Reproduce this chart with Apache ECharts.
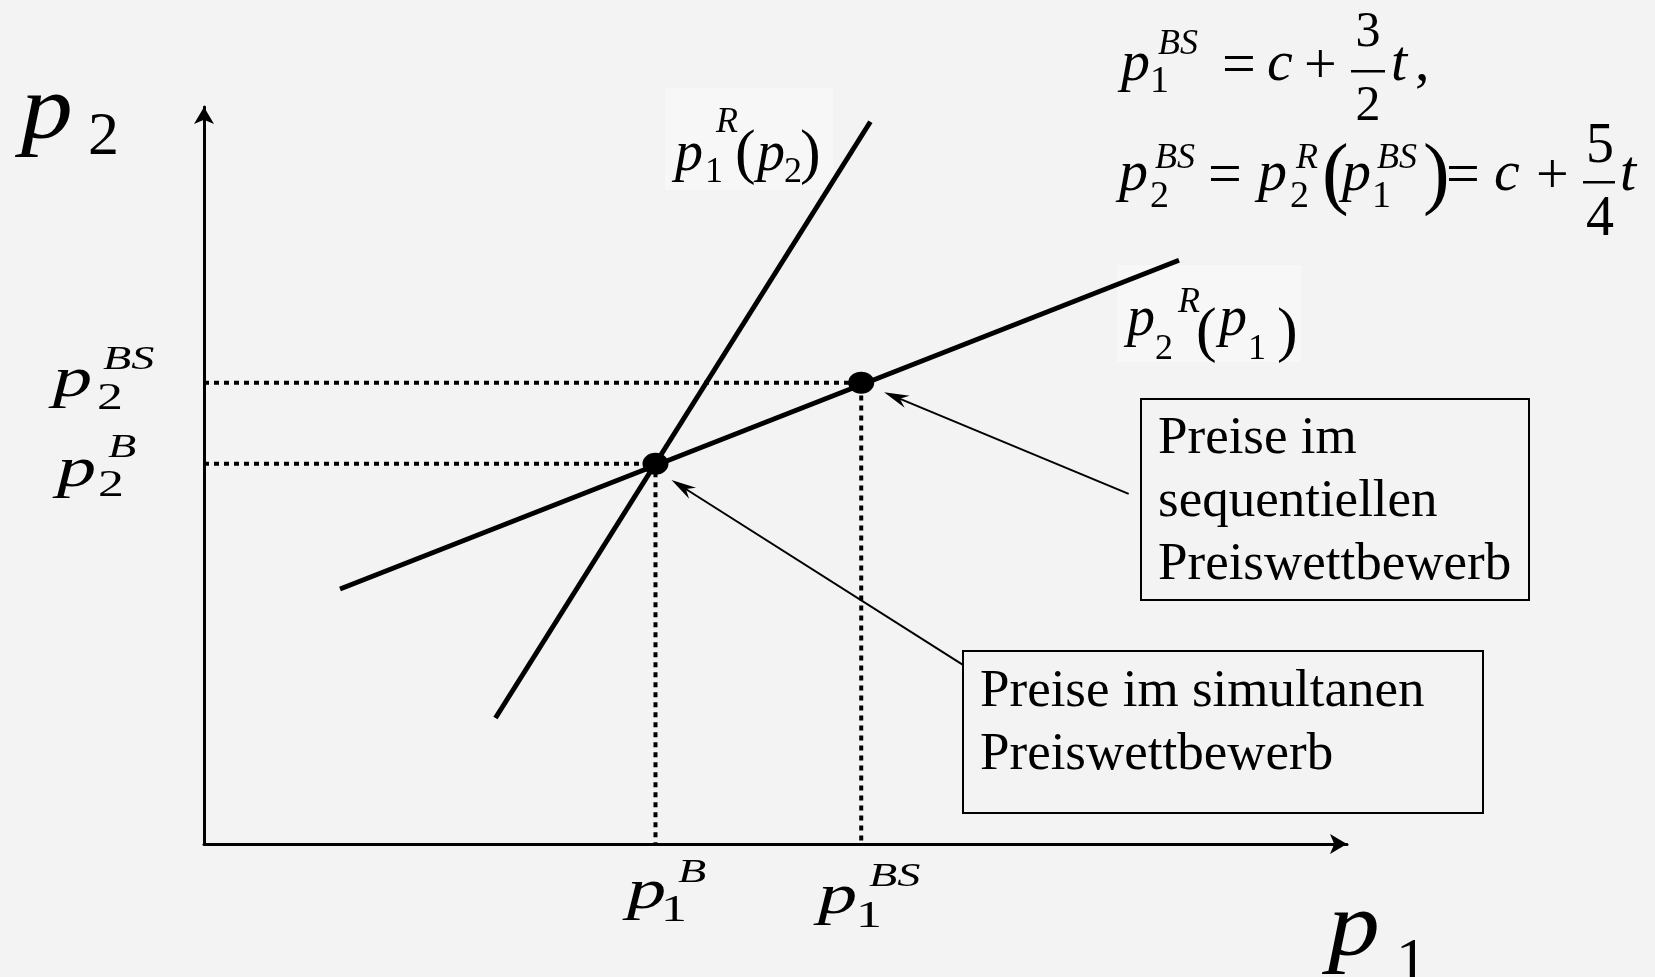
<!DOCTYPE html>
<html>
<head>
<meta charset="utf-8">
<title>Preiswettbewerb</title>
<script src="https://cdn.jsdelivr.net/npm/echarts@6/dist/echarts.min.js"></script>
<style>
html,body{margin:0;padding:0;background:#f3f3f3;}
#main{width:1655px;height:977px;}
</style>
</head>
<body>
<div id="main"></div>
<script>
// Achsen laufen von 0 bis 100 (beliebige Einheiten)
var reaktion1 = [[25.5, 17.1], [58.3, 98.0]];   // p1^R(p2), steil
var reaktion2 = [[11.9, 34.6], [85.3, 79.2]];   // p2^R(p1), flach
var bertrand = [39.5, 51.6];      // Preise im simultanen Wettbewerb
var stackelberg = [57.5, 62.6];   // Preise im sequentiellen Wettbewerb
var pfeilVon = [[80.9, 47.5], [66.4, 24.3]];
var pfeilNach = [[59.5, 61.3], [40.9, 49.4]];

var serif = '"Liberation Serif", "Times New Roman", serif';

// ein Textstueck, base = Grundlinie in Pixel
// o: {b: fett, sx: Streckung in x, align}
function t(s, x, base, size, ital, o)
{
  o = o || {};
  return {
    type: 'text',
    x: x,
    y: base - 0.29 * size,
    scaleX: o.sx || 1,
    z: 100,
    style: {
      text: s,
      fill: '#000',
      font: (ital ? 'italic ' : '') + (o.b ? 'bold ' : '') + size + 'px ' + serif,
      align: o.align || 'left',
      verticalAlign: 'middle',
      textAlign: o.align || 'left',
      textVerticalAlign: 'middle'
    }
  };
}

function box(x, y, w, h, fill, stroke, z)
{
  return {
    type: 'rect',
    z: z == null ? 90 : z,
    shape: { x: x, y: y, width: w, height: h },
    style: { fill: fill, stroke: stroke || null, lineWidth: stroke ? 2 : 0 }
  };
}

var breit = { sx: 1.4 };
var mitte = { align: 'center' };

var graphics = [
  // Achsenbeschriftung
  t('p', 21, 140, 90, true, { sx: 1.15 }), t('2', 88, 156, 62, false),
  t('p', 1328, 957, 90, true, { sx: 1.15 }), t('1', 1396, 982, 62, false),

  // p2^BS, p2^B
  t('p', 53, 398, 56, true, breit), t('2', 97, 410, 37, false, breit), t('BS', 103, 370, 33, true, breit),
  t('p', 57, 488, 56, true, breit), t('2', 98, 497, 37, false, breit), t('B', 108, 458, 33, true, breit),
  // p1^B, p1^BS
  t('p', 627, 910, 56, true, breit), t('1', 661, 922, 37, false, breit), t('B', 678, 883, 33, true, breit),
  t('p', 818, 915, 56, true, breit), t('1', 856, 928, 37, false, breit), t('BS', 869, 887, 33, true, breit),

  // p1^R(p2)
  box(665, 88, 168, 102, '#f7f7f7', null, 1),
  t('p', 675, 172, 56, true), t('1', 705, 183, 36, false), t('R', 716, 133, 36, true),
  t('(', 735, 174, 62, false), t('p', 757, 172, 56, true), t('2', 784, 183, 36, false),
  t(')', 800, 174, 62, false),

  // p2^R(p1)
  box(1117, 265, 184, 97, '#f7f7f7', null, 1),
  t('p', 1127, 337, 56, true), t('2', 1155, 360, 36, false), t('R', 1178, 313, 36, true),
  t('(', 1196, 352, 62, false), t('p', 1219, 337, 56, true), t('1', 1248, 360, 36, false),
  t(')', 1277, 352, 62, false),

  // Formel Zeile 1
  t('p', 1121, 82, 58, true), t('1', 1150, 93, 38, false), t('BS', 1158, 55, 36, true),
  t('=', 1222, 85, 60, false), t('c', 1267, 82, 58, true), t('+', 1304, 85, 58, false),
  t('3', 1368, 47, 50, false, mitte), t('2', 1368, 121, 50, false, mitte),
  box(1351, 70, 34, 2.5, '#000'),
  t('t', 1391, 82, 58, true), t(',', 1415, 82, 58, false),

  // Formel Zeile 2
  t('p', 1119, 192, 58, true), t('2', 1150, 208, 38, false), t('BS', 1155, 169, 36, true),
  t('=', 1208, 195, 60, false), t('p', 1258, 192, 58, true), t('2', 1290, 208, 38, false),
  t('R', 1296, 169, 36, true), t('(', 1322, 201, 80, false), t('p', 1342, 192, 58, true),
  t('1', 1372, 208, 38, false), t('BS', 1377, 169, 36, true), t(')', 1423, 201, 80, false),
  t('=', 1446, 195, 60, false), t('c', 1494, 192, 58, true), t('+', 1536, 195, 58, false),
  t('5', 1600, 164, 56, false, mitte), t('4', 1600, 237, 56, false, mitte),
  box(1583, 181, 32, 2.5, '#000'),
  t('t', 1620, 192, 58, true),

  // Kaesten
  box(1141, 399, 388, 201, '#f3f3f3', '#000'),
  t('Preise im', 1158, 454, 53, false),
  t('sequentiellen', 1158, 517, 53, false),
  t('Preiswettbewerb', 1158, 580, 53, false),
  box(963, 651, 520, 162, '#f3f3f3', '#000'),
  t('Preise im simultanen', 980, 707, 53, false),
  t('Preiswettbewerb', 980, 770, 53, false)
];

var pfeile = [];
var i;
for(i=0;i<pfeilVon.length;i++)
{
  pfeile.push([pfeilVon[i][0], pfeilVon[i][1], pfeilNach[i][0], pfeilNach[i][1]]);
}

function zeichnePfeil(params, api)
{
  var a = api.coord([api.value(0), api.value(1)]);
  var b = api.coord([api.value(2), api.value(3)]);
  var dx = b[0] - a[0], dy = b[1] - a[1];
  var len = Math.sqrt(dx*dx + dy*dy);
  var ux = dx/len, uy = dy/len;
  var nx = -uy, ny = ux;
  var L = 25, W = 6.5;
  return {
    type: 'group',
    children: [
      {
        type: 'line',
        shape: { x1: a[0], y1: a[1], x2: b[0] - ux*16, y2: b[1] - uy*16 },
        style: { stroke: '#000', lineWidth: 2 }
      },
      {
        type: 'polygon',
        shape: { points: [
          [b[0], b[1]],
          [b[0] - ux*L + nx*W, b[1] - uy*L + ny*W],
          [b[0] - ux*17, b[1] - uy*17],
          [b[0] - ux*L - nx*W, b[1] - uy*L - ny*W]
        ] },
        style: { fill: '#000' }
      }
    ]
  };
}

var chart = echarts.init(document.getElementById('main'), null, { renderer: 'canvas' });

var option = {
  backgroundColor: '#f3f3f3',
  animation: false,
  grid: { left: 204, right: 308, top: 107, bottom: 133, containLabel: false, outerBoundsMode: 'none' },
  xAxis: {
    type: 'value', min: 0, max: 100,
    axisLine: { show: true, onZero: false, symbol: ['none', 'arrow'], symbolSize: [15, 17],
      lineStyle: { color: '#000', width: 3 } },
    axisTick: { show: false }, axisLabel: { show: false }, splitLine: { show: false }
  },
  yAxis: {
    type: 'value', min: 0, max: 100,
    axisLine: { show: true, onZero: false, symbol: ['none', 'arrow'], symbolSize: [15, 17],
      lineStyle: { color: '#000', width: 3 } },
    axisTick: { show: false }, axisLabel: { show: false }, splitLine: { show: false }
  },
  series: [
    {
      name: 'gestrichelt B', type: 'line', symbol: 'none', z: 2,
      data: [[0, bertrand[1]], [bertrand[0], bertrand[1]], [bertrand[0], 0]],
      lineStyle: { color: '#000', width: 4, type: [5, 5] }
    },
    {
      name: 'gestrichelt BS', type: 'line', symbol: 'none', z: 2,
      data: [[0, stackelberg[1]], [stackelberg[0], stackelberg[1]], [stackelberg[0], 0]],
      lineStyle: { color: '#000', width: 4, type: [5, 5] }
    },
    {
      name: 'p1R', type: 'line', symbol: 'none', z: 3,
      data: reaktion1,
      lineStyle: { color: '#000', width: 5 }
    },
    {
      name: 'p2R', type: 'line', symbol: 'none', z: 3,
      data: reaktion2,
      lineStyle: { color: '#000', width: 5 }
    },
    {
      name: 'Gleichgewichte', type: 'scatter', z: 4,
      symbol: 'circle', symbolSize: [26, 22],
      data: [bertrand, stackelberg],
      itemStyle: { color: '#000', opacity: 1 }
    },
    {
      name: 'Pfeile', type: 'custom', z: 5,
      renderItem: zeichnePfeil,
      encode: { x: [0, 2], y: [1, 3] },
      data: pfeile
    }
  ],
  graphic: graphics
};
chart.setOption(option);
</script>
</body>
</html>
